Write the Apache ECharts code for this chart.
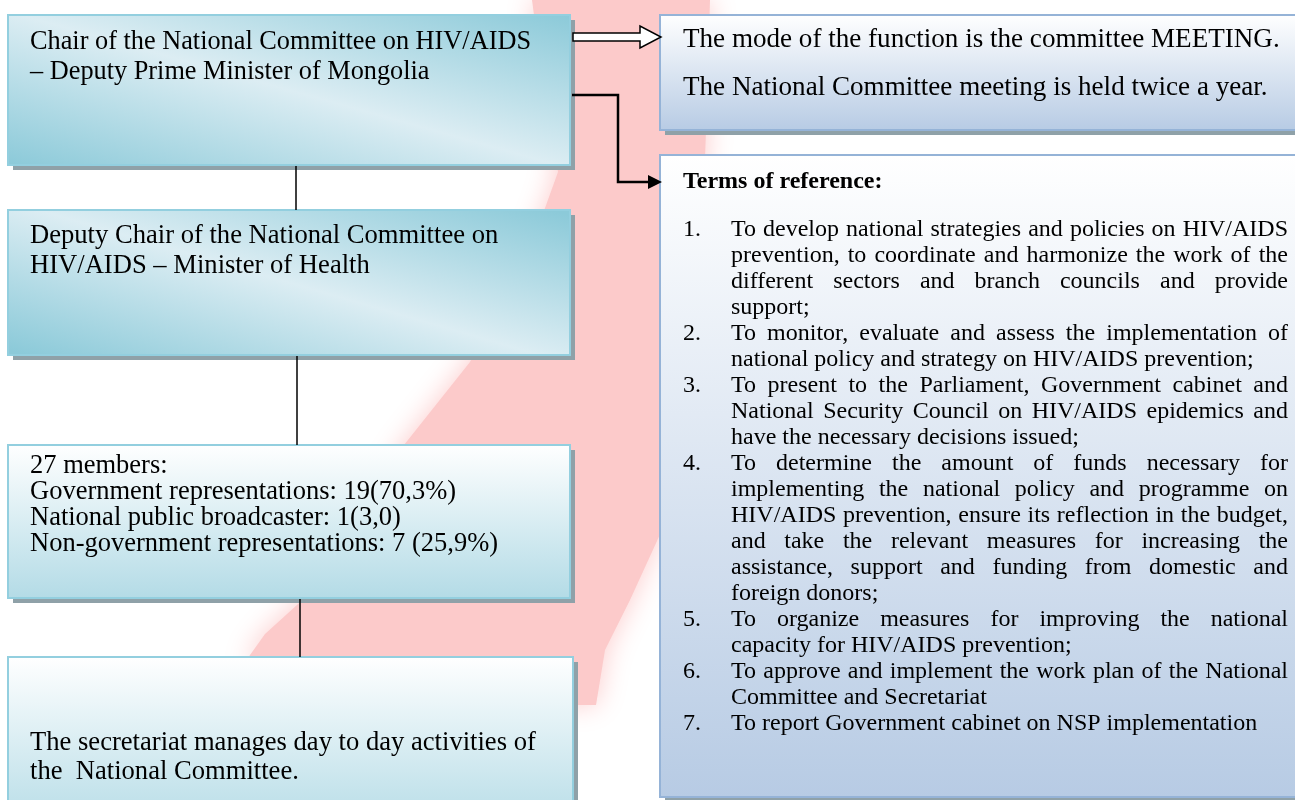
<!DOCTYPE html>
<html>
<head>
<meta charset="utf-8">
<script src="https://cdn.jsdelivr.net/npm/echarts@6/dist/echarts.min.js"></script>
<style>
    html, body { margin: 0; padding: 0; background: #fff; }
    #main { width: 1295px; height: 800px; }
</style>
</head>
<body>
<div id="main"></div>
<script>
    const FONT = '"Liberation Serif", "Times New Roman", serif';

    // texts of the diagram
    const chairLines = ['Chair of the National Committee on HIV/AIDS', '– Deputy Prime Minister of Mongolia'];
    const deputyLines = ['Deputy Chair of the National Committee on', 'HIV/AIDS – Minister of Health'];
    const memberLines = [
        '27 members:',
        'Government representations: 19(70,3%)',
        'National public broadcaster: 1(3,0)',
        'Non-government representations: 7 (25,9%)'
    ];
    const secretariatLines = ['The secretariat manages day to day activities of', 'the  National Committee.'];
    const meetingLines = ['The mode of the function is the committee MEETING.', 'The National Committee meeting is held twice a year.'];
    const termsTitle = 'Terms of reference:';
    const termsItems = [
        ['To develop national strategies and policies on HIV/AIDS',
         'prevention, to coordinate and harmonize the work of the',
         'different sectors and branch councils and provide',
         'support;'],
        ['To monitor, evaluate and assess the implementation of',
         'national policy and strategy on HIV/AIDS prevention;'],
        ['To present to the Parliament, Government cabinet and',
         'National Security Council on HIV/AIDS epidemics and',
         'have the necessary decisions issued;'],
        ['To determine the amount of funds necessary for',
         'implementing the national policy and programme on',
         'HIV/AIDS prevention, ensure its reflection in the budget,',
         'and take the relevant measures for increasing the',
         'assistance, support and funding from domestic and',
         'foreign donors;'],
        ['To organize measures for improving the national',
         'capacity for HIV/AIDS prevention;'],
        ['To approve and implement the work plan of the National',
         'Committee and Secretariat'],
        ['To report Government cabinet on NSP implementation']
    ];

    const ctx = document.createElement('canvas').getContext('2d');
    function measure(s, size) {
        ctx.font = size + 'px ' + FONT;
        return ctx.measureText(s).width;
    }

    const tealDiag = {
        type: 'linear', x: 0.43, y: 1.43, x2: 0.57, y2: -0.43,
        colorStops: [{offset: 0, color: '#8ccad9'}, {offset: 0.5, color: '#dcedf3'}, {offset: 1, color: '#8ccad9'}]
    };
    function tealDown(end) {
        return {type: 'linear', x: 0, y: 0, x2: 0, y2: end,
            colorStops: [{offset: 0, color: '#ffffff'}, {offset: 1, color: '#b3dbe6'}]};
    }
    const blueDown = {
        type: 'linear', x: 0, y: 0, x2: 0, y2: 1,
        colorStops: [{offset: 0, color: '#ffffff'}, {offset: 1, color: '#b7cbe4'}]
    };

    let els = [];

    // pink ribbon behind everything
    els.push({
        type: 'polygon', z: 1,
        shape: {points: [[532, 0], [710, 0], [705, 160], [680, 400], [662, 530], [630, 600], [605, 650],
            [596, 705], [572, 705], [400, 672], [245, 662], [265, 634], [330, 575], [400, 450], [470, 362],
            [540, 222], [558, 172], [540, 60]]},
        style: {fill: '#fccaca', shadowBlur: 28, shadowColor: '#fccbcb'}
    });

    function box(x, y, w, h, fill, stroke) {
        els.push({type: 'rect', z: 2, shape: {x: x + 5, y: y + 5, width: w, height: h}, style: {fill: '#8fa1a8'}});
        els.push({type: 'rect', z: 3, shape: {x: x, y: y, width: w, height: h}, style: {fill: fill, stroke: stroke, lineWidth: 2}});
    }
    function lines(arr, x, y0, lh, size, weight) {
        arr.forEach((t, i) => {
            els.push({type: 'text', z: 5, x: x, y: y0 + i * lh,
                style: {text: t, fontFamily: FONT, fontSize: size, fontWeight: weight || 'normal', fill: '#000', verticalAlign: 'middle'}});
        });
    }
    function justified(t, x0, x1, y, size) {
        const words = t.split(' ');
        const widths = words.map(w => measure(w, size));
        const sum = widths.reduce((a, b) => a + b, 0);
        const gap = (x1 - x0 - sum) / (words.length - 1);
        let x = x0;
        words.forEach((w, i) => {
            els.push({type: 'text', z: 5, x: x, y: y,
                style: {text: w, fontFamily: FONT, fontSize: size, fill: '#000', verticalAlign: 'middle'}});
            x += widths[i] + gap;
        });
    }

    // left column
    box(8, 15, 562, 150, tealDiag, '#93cfdf');
    lines(chairLines, 30, 42, 30, 26.3);
    box(8, 210, 562, 145, tealDiag, '#93cfdf');
    lines(deputyLines, 30, 236, 30, 26.6);
    box(8, 445, 562, 153, tealDown(1), '#93cfdf');
    lines(memberLines, 30, 466, 26, 26.5);
    box(8, 657, 565, 160, tealDown(1.1), '#93cfdf');
    lines(secretariatLines, 30, 743, 29, 26.6);

    // connectors
    [[296, 166, 210], [297, 356, 445], [300, 599, 657]].forEach(c => {
        els.push({type: 'line', z: 4, shape: {x1: c[0], y1: c[1], x2: c[0], y2: c[2]}, style: {stroke: '#000', lineWidth: 1.5}});
    });
    els.push({type: 'polygon', z: 4,
        shape: {points: [[573, 33], [640, 33], [640, 26], [661, 37], [640, 48], [640, 41], [573, 41]]},
        style: {fill: '#fff', stroke: '#000', lineWidth: 1.5}});
    els.push({type: 'polyline', z: 4,
        shape: {points: [[572, 95], [618, 95], [618, 182], [650, 182]]},
        style: {stroke: '#000', lineWidth: 2.5, fill: null}});
    els.push({type: 'polygon', z: 4,
        shape: {points: [[648, 175], [662, 182], [648, 189]]},
        style: {fill: '#000'}});

    // right column
    box(660, 15, 650, 115, blueDown, '#95b3d7');
    lines(meetingLines, 683, 40, 48, 27.1);
    box(660, 155, 650, 642, blueDown, '#95b3d7');
    lines([termsTitle], 683, 182, 26, 24, 'bold');

    let row = 0;
    termsItems.forEach((item, k) => {
        els.push({type: 'text', z: 5, x: 683, y: 230 + row * 26,
            style: {text: (k + 1) + '.', fontFamily: FONT, fontSize: 24, fill: '#000', verticalAlign: 'middle'}});
        item.forEach((t, i) => {
            const y = 230 + row * 26;
            if (i < item.length - 1) {
                justified(t, 731, 1288, y, 24);
            } else {
                els.push({type: 'text', z: 5, x: 731, y: y,
                    style: {text: t, fontFamily: FONT, fontSize: 24, fill: '#000', verticalAlign: 'middle'}});
            }
            row++;
        });
    });

    const chart = echarts.init(document.getElementById('main'));
    chart.setOption({
        animation: false,
        graphic: {elements: els}
    });
</script>
</body>
</html>
